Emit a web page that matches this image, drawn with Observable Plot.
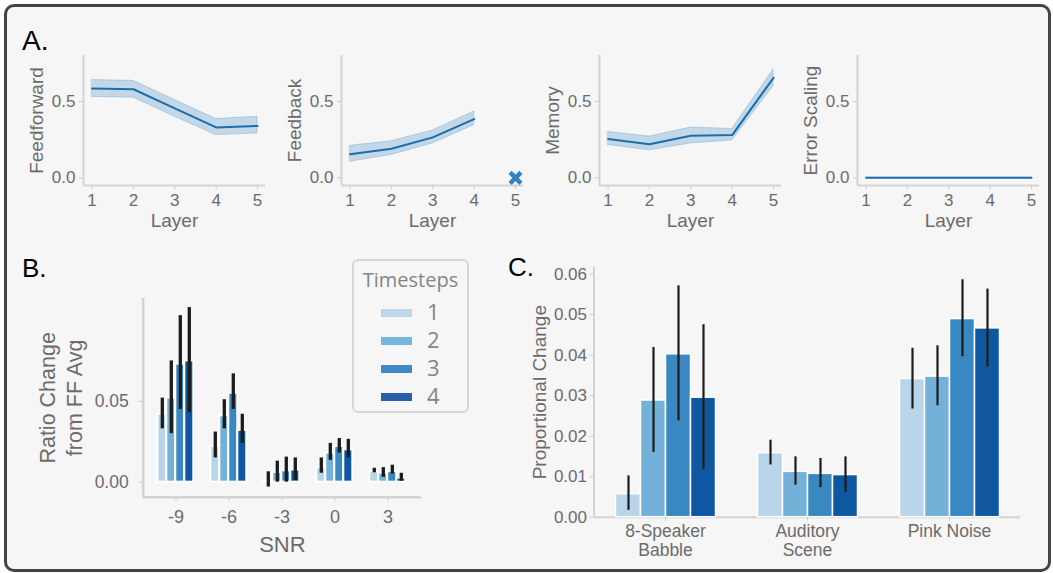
<!DOCTYPE html>
<html><head><meta charset="utf-8">
<script src="https://cdn.jsdelivr.net/npm/d3@7"></script>
<script src="https://cdn.jsdelivr.net/npm/@observablehq/plot@0.6"></script>
<style>
html,body{margin:0;padding:0;background:#fff;}
body{position:relative;width:1053px;height:573px;overflow:hidden;font-family:"Liberation Sans",Arial,sans-serif;}
#frame{position:absolute;left:4px;top:4px;width:1041px;height:562px;border:3px solid #444;border-radius:10px;background:#f6f6f6;}
.abs{position:absolute;}
.letter{position:absolute;color:#000;font-family:"Liberation Sans",Arial,sans-serif;line-height:1;}
#legend{position:absolute;left:352px;top:259px;width:113px;height:150px;border:2px solid #d6d6d6;border-radius:6px;background:#f6f6f6;font-family:"Open Sans",sans-serif;color:#858585;}
#legend .title{position:absolute;left:0;width:100%;top:5px;text-align:center;font-size:20px;}
#legend .row{position:absolute;left:0;width:100%;height:28px;}
#legend .sw{position:absolute;left:27px;width:31px;height:8px;top:10px;}
#legend .lab{position:absolute;left:73px;top:-2px;font-size:22px;line-height:28px;}
</style></head>
<body>
<div id="frame"></div>
<script>
// ---------- Panel A data ----------
const layers = [1, 2, 3, 4, 5];
const layerTicks = [1, 2, 3, 4, 5];
const aYTicks = [0, 0.5];
const ffMean = [0.585, 0.58, 0.455, 0.33, 0.34];
const ffLo   = [0.53, 0.525, 0.40, 0.28, 0.29];
const ffHi   = [0.64, 0.635, 0.51, 0.385, 0.40];
const fbLayers = [1, 2, 3, 4];
const fbMean = [0.155, 0.19, 0.265, 0.385];
const fbLo   = [0.105, 0.15, 0.225, 0.345];
const fbHi   = [0.21, 0.24, 0.31, 0.435];
const fbMissingLayer = [5];
const fbMissingValue = [0];
const memMean = [0.255, 0.22, 0.275, 0.28, 0.655];
const memLo   = [0.215, 0.18, 0.225, 0.245, 0.60];
const memHi   = [0.30, 0.27, 0.33, 0.32, 0.71];
const errMean = [0, 0, 0, 0, 0];
const errLo   = [0, 0, 0, 0, 0];
const errHi   = [0, 0, 0, 0, 0];

// ---------- Panel B data ----------
const snrLevels = [-9, -6, -3, 0, 3];
const timesteps = [1, 2, 3, 4];
const bYTicks = [0, 0.05];
// rows: SNR level, columns: timestep 1..4
const bMean = [
  [0.042, 0.052, 0.073, 0.075],
  [0.022, 0.041, 0.055, 0.032],
  [0.001, 0.006, 0.007, 0.0075],
  [0.009, 0.018, 0.022, 0.020],
  [0.0065, 0.0055, 0.0065, 0.0025]
];
const bLo = [
  [0.033, 0.030, 0.045, 0.043],
  [0.015, 0.033, 0.045, 0.024],
  [-0.003, 0.0, 0.0, 0.001],
  [0.0055, 0.0135, 0.018, 0.015],
  [0.0058, 0.003, 0.005, 0.0006]
];
const bHi = [
  [0.052, 0.075, 0.103, 0.108],
  [0.031, 0.051, 0.067, 0.042],
  [0.0064, 0.013, 0.0155, 0.015],
  [0.015, 0.024, 0.027, 0.0265],
  [0.0086, 0.009, 0.0105, 0.0055]
];

// ---------- Panel C data ----------
const cCats = ["8-Speaker\nBabble", "Auditory\nScene", "Pink Noise"];
const cYTicks = [0, 0.01, 0.02, 0.03, 0.04, 0.05, 0.06];
const cMean = [
  [0.0057, 0.0288, 0.0402, 0.0295],
  [0.0158, 0.0112, 0.0107, 0.0104],
  [0.0341, 0.0347, 0.0489, 0.0466]
];
const cLo = [
  [0.0017, 0.0160, 0.0238, 0.0118],
  [0.0129, 0.0079, 0.0073, 0.0061],
  [0.0267, 0.0275, 0.0396, 0.0371]
];
const cHi = [
  [0.0102, 0.0419, 0.0571, 0.0475],
  [0.0190, 0.0149, 0.0145, 0.0149],
  [0.0417, 0.0423, 0.0586, 0.0563]
];

const blues = ["#b9d5ea", "#73b1d8", "#3a88c1", "#0f57a1"];
const legendBlues = ["#bcd7ec", "#78b5dd", "#4189c6", "#2c5ea8"];

// ---------- helpers ----------
const TXT = "#6b6b6b", SPINE = "#d3d3d3", TICK = "#c9c9c9";
const baseStyle = {background: "transparent", fontFamily: "Liberation Sans, Arial, sans-serif", fontSize: "16px", color: TXT, overflow: "visible"};
const centered = {textAnchor: "middle", lineAnchor: "middle"};
function place(svg, left, top) {
  const d = document.createElement("div");
  d.className = "abs";
  d.style.left = left + "px"; d.style.top = top + "px";
  d.appendChild(svg);
  document.body.appendChild(d);
}
function letter(t, left, top, size) {
  const d = document.createElement("div");
  d.className = "letter"; d.textContent = t;
  d.style.left = left + "px"; d.style.top = top + "px"; d.style.fontSize = size + "px";
  document.body.appendChild(d);
}

// ---------- Panel A ----------
const axDom = [0.792, 5.193], ayDom = [-0.05, 0.801];
function layerPlot(xs, xsLayers, mean, lo, hi, label, extra = []) {
  const rows = xsLayers.map((l, i) => ({layer: l, m: mean[i], lo: lo[i], hi: hi[i]}));
  const svg = Plot.plot({
    width: 252, height: 190, marginLeft: 60, marginRight: 10, marginTop: 10, marginBottom: 50,
    style: baseStyle,
    x: {domain: axDom, axis: null},
    y: {domain: ayDom, axis: null},
    marks: [
      Plot.ruleX([axDom[0]], {stroke: SPINE, strokeWidth: 2}),
      Plot.ruleY([ayDom[0]], {stroke: SPINE, strokeWidth: 2}),
      Plot.axisX({ticks: layerTicks, tickFormat: d => String(d), tickSize: 4, tickPadding: 4, stroke: TICK, fill: TXT, fontSize: 17, label: null}),
      Plot.axisY({ticks: aYTicks, tickFormat: d3.format(".1f"), tickSize: 4, tickPadding: 4, stroke: TICK, fill: TXT, fontSize: 17, label: null}),
      Plot.areaY(rows, {x: "layer", y1: "lo", y2: "hi", fill: "#2f7fbf", fillOpacity: 0.26, stroke: "#2f7fbf", strokeOpacity: 0.25, strokeWidth: 1}),
      Plot.lineY(rows, {x: "layer", y: "m", stroke: "#1a6ead", strokeWidth: 2}),
      Plot.text([label], {text: d => d, frameAnchor: "left", rotate: -90, dx: -46.5, fontSize: 19, fill: TXT, ...centered}),
      Plot.text(["Layer"], {text: d => d, frameAnchor: "bottom", dy: 35, fontSize: 19, fill: TXT, ...centered}),
      ...extra
    ]
  });
  place(svg, xs - 60, 45);
}
layerPlot(82.8, layers, ffMean, ffLo, ffHi, "Feedforward");
layerPlot(340.8, fbLayers, fbMean, fbLo, fbHi, "Feedback", [
  Plot.dot(fbMissingLayer.map((l, i) => ({layer: l, v: fbMissingValue[i]})),
    {x: "layer", y: "v", symbol: "times", r: 5, stroke: "#3283c0", strokeWidth: 4.5})
]);
layerPlot(598.9, layers, memMean, memLo, memHi, "Memory");
layerPlot(856.5, layers, errMean, errLo, errHi, "Error Scaling");

// ---------- Panel B ----------
const bRows = [];
snrLevels.forEach((s, i) => timesteps.forEach((t, j) =>
  bRows.push({snr: s, t, m: bMean[i][j], lo: bLo[i][j], hi: bHi[i][j]})));
const bY = [-0.0093, 0.1136];
const bDims = {width: 410, height: 313, marginLeft: 122.7, marginRight: 9, marginTop: 38, marginBottom: 76.3};
place(Plot.plot({
  ...bDims, style: baseStyle,
  x: {domain: [0, 1], axis: null},
  y: {domain: bY, axis: null},
  marks: [
    Plot.ruleX([0], {stroke: SPINE, strokeWidth: 2.5}),
    Plot.ruleY([bY[0]], {stroke: SPINE, strokeWidth: 2.5}),
    Plot.axisY({ticks: bYTicks, tickFormat: d3.format(".2f"), tickSize: 4, tickPadding: 10.5, stroke: TICK, fill: TXT, fontSize: 17.5, label: null}),
    Plot.text(["Ratio Change\nfrom FF Avg"], {text: d => d, frameAnchor: "left", rotate: -90, dx: -83.4, fontSize: 21.5, lineHeight: 1.25, fill: TXT, ...centered}),
    Plot.text(["SNR"], {text: d => d, frameAnchor: "bottom", dy: 47.3, fontSize: 22, fill: TXT, ...centered})
  ]
}), 20, 260);
place(Plot.plot({
  ...bDims, style: baseStyle,
  fx: {domain: snrLevels, paddingInner: 0, paddingOuter: 0.09, axis: null, label: null},
  x: {domain: timesteps, paddingInner: 0, paddingOuter: 0.9, axis: null},
  y: {domain: bY, axis: null},
  color: {type: "ordinal", domain: timesteps, range: blues},
  marks: [
    Plot.barY(bRows, {fx: "snr", x: "t", y1: 0, y2: "m", fill: "t", stroke: "white", strokeWidth: 2}),
    Plot.ruleX(bRows, {fx: "snr", x: "t", y1: "lo", y2: "hi", stroke: "#1c1c1c", strokeWidth: 3.3}),
    Plot.axisFx({anchor: "bottom", tickSize: 4, tickPadding: 9.5, tickFormat: d => String(d), stroke: TICK, fill: TXT, fontSize: 18, label: null})
  ]
}), 20, 260);

// legend (B)
const leg = document.createElement("div");
leg.id = "legend";
leg.innerHTML = '<div class="title">Timesteps</div>';
timesteps.forEach((t, i) => {
  const r = document.createElement("div");
  r.className = "row"; r.style.top = (38 + i * 28) + "px";
  r.innerHTML = `<div class="sw" style="background:${legendBlues[i]}"></div><div class="lab">${t}</div>`;
  leg.appendChild(r);
});
document.body.appendChild(leg);

// ---------- Panel C ----------
const cRows = [];
cCats.forEach((c, i) => timesteps.forEach((t, j) =>
  cRows.push({cat: c, t, m: cMean[i][j], lo: cLo[i][j], hi: cHi[i][j]})));
const cY = [0, 0.0617];
const cDims = {width: 530, height: 318, marginLeft: 93.5, marginRight: 10, marginTop: 11.7, marginBottom: 56.3};
place(Plot.plot({
  ...cDims, style: baseStyle,
  x: {domain: [0, 1], axis: null},
  y: {domain: cY, axis: null},
  marks: [
    Plot.ruleX([0], {stroke: SPINE, strokeWidth: 2}),
    Plot.axisY({ticks: cYTicks, tickFormat: d3.format(".2f"), tickSize: 4, tickPadding: 3, stroke: TICK, fill: TXT, fontSize: 17, label: null}),
    Plot.text(["Proportional Change"], {text: d => d, frameAnchor: "left", rotate: -90, dx: -54.5, fontSize: 19, fill: TXT, ...centered})
  ]
}), 500, 255);
place(Plot.plot({
  ...cDims, style: baseStyle,
  fx: {domain: cCats, paddingInner: 0, paddingOuter: 0, axis: null, label: null},
  x: {domain: timesteps, paddingInner: 0, paddingOuter: 0.78, axis: null},
  y: {domain: cY, axis: null},
  color: {type: "ordinal", domain: timesteps, range: blues},
  marks: [
    Plot.ruleY([0], {stroke: SPINE, strokeWidth: 2}),
    Plot.barY(cRows, {fx: "cat", x: "t", y1: 0, y2: "m", fill: "t", stroke: "white", strokeWidth: 1.5}),
    Plot.ruleX(cRows, {fx: "cat", x: "t", y1: "lo", y2: "hi", stroke: "#1c1c1c", strokeWidth: 2.2}),
    Plot.axisFx({anchor: "bottom", tickSize: 4, tickPadding: 3, stroke: TICK, fill: TXT, fontSize: 17.5, lineHeight: 1.05, label: null})
  ]
}), 500, 255);

// panel letters
letter("A.", 22, 27, 28);
letter("B.", 22, 255, 26);
letter("C.", 508, 254, 26);
</script>
</body></html>
